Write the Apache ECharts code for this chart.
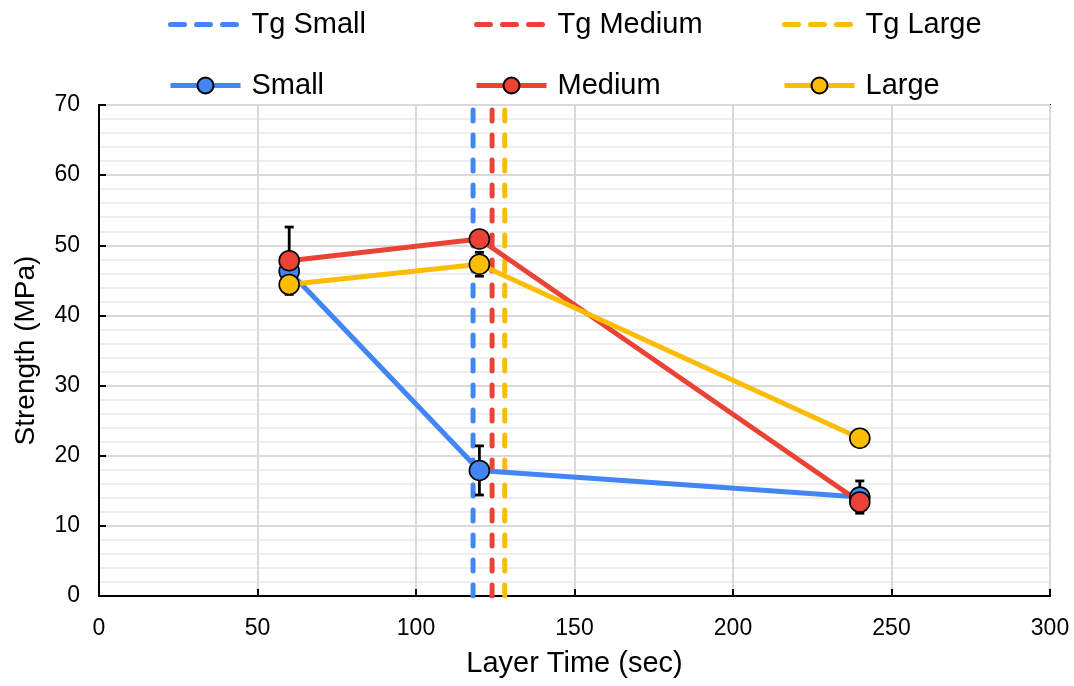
<!DOCTYPE html>
<html><head><meta charset="utf-8">
<script src="https://cdn.jsdelivr.net/npm/echarts@6/dist/echarts.min.js"></script>
<style>html,body{margin:0;padding:0;background:#fff}#c{width:1074px;height:686px}</style>
</head><body><div id="c"></div>
<script>
const layerTimes = [60, 120, 240];
const smallStrength = [46.3, 17.9, 14.1];
const mediumStrength = [47.8, 50.9, 13.4];
const largeStrength = [44.4, 47.3, 22.5];
const smallErr = [1.5, 3.5, 2.3];
const mediumErr = [4.8, 0.8, 1.2];
const largeErr = [0.8, 1.7, 0.6];
const tgSmall = 118;
const tgMedium = 124;
const tgLarge = 128;
const yRange = [0, 70];
const xTicks = [0, 50, 100, 150, 200, 250, 300];

const BLUE = '#4285F4', RED = '#EA4335', YEL = '#FBBC04';
const FONT = 'Liberation Sans, Arial, sans-serif';

function pts(vals){ return layerTimes.map((t,i)=>[t, vals[i]]); }
function errData(vals, errs){ return layerTimes.map((t,i)=>[t, vals[i]-errs[i], vals[i]+errs[i]]); }

function errSeries(name, vals, errs){
  return {
    type:'custom', name: name+' err', z:2, silent:true,
    data: errData(vals, errs),
    encode:{x:0, y:[1,2]},
    renderItem:function(params, api){
      const x = api.value(0);
      const lo = api.coord([x, api.value(1)]);
      const hi = api.coord([x, api.value(2)]);
      const w = 4.5;
      const st = {stroke:'#000', lineWidth:2.8};
      return {type:'group', children:[
        {type:'line', shape:{x1:lo[0],y1:lo[1],x2:hi[0],y2:hi[1]}, style:st},
        {type:'line', shape:{x1:lo[0]-w,y1:lo[1],x2:lo[0]+w,y2:lo[1]}, style:st},
        {type:'line', shape:{x1:hi[0]-w,y1:hi[1],x2:hi[0]+w,y2:hi[1]}, style:st}
      ]};
    }
  };
}
function tgSeries(name, x, color){
  return {
    type:'line', name:name, z:1, symbol:'none', silent:true,
    data:[[x, yRange[0]],[x, yRange[1]]],
    lineStyle:{color:color, width:5, type:[11,14], cap:'round'},
    itemStyle:{color:color}
  };
}
function dataSeries(name, vals, color){
  return {
    type:'line', name:name, z:3, data:pts(vals),
    symbol:'circle', symbolSize:20,
    lineStyle:{color:color, width:5},
    itemStyle:{color:color, borderColor:'#000', borderWidth:1.6}
  };
}
function legendAt(name, left, top, isTg){
  const lg = {
    data:[name], left:left, top:top, itemWidth:70, itemHeight:20,
    textStyle:{fontSize:29, color:'#000', fontFamily:FONT, padding:[0,0,0,6]},
    lineStyle:{width:5},
    selectedMode:false
  };
  if (isTg) { lg.lineStyle = {width:5, type:[14,12], cap:'round'}; lg.itemStyle = {opacity:0}; }
  return lg;
}

const chart = echarts.init(document.getElementById('c'), null, {renderer:'canvas'});
chart.setOption({
  animation:false,
  backgroundColor:'#fff',
  legend:[
    legendAt('Tg Small',163,5,true), legendAt('Tg Medium',469,5,true), legendAt('Tg Large',777,5,true),
    legendAt('Small',163,66), legendAt('Medium',469,66), legendAt('Large',777,66)
  ],
  grid:{left:99, right:24, top:105, bottom:90, show:true, borderColor:'#000', borderWidth:2, containLabel:false},
  xAxis:{
    type:'value', min:xTicks[0], max:xTicks[xTicks.length-1], interval:50,
    name:'Layer Time (sec)', nameLocation:'middle', nameGap:53,
    nameTextStyle:{fontSize:29, color:'#000', fontFamily:FONT},
    axisLine:{show:true, onZero:false, lineStyle:{color:'#000', width:2}},
    axisTick:{show:true, inside:true, length:7, lineStyle:{color:'#000', width:2}},
    axisLabel:{fontSize:23, color:'#000', fontFamily:FONT, margin:21},
    splitLine:{show:true, lineStyle:{color:'#d9d9d9', width:2}}
  },
  yAxis:{
    type:'value', min:yRange[0], max:yRange[1], interval:10,
    name:'Strength (MPa)', nameLocation:'middle', nameGap:59, nameRotate:90,
    nameTextStyle:{fontSize:28, color:'#000', fontFamily:FONT},
    axisLine:{show:true, onZero:false, lineStyle:{color:'#000', width:2}},
    axisTick:{show:true, inside:true, length:7, lineStyle:{color:'#000', width:2}},
    axisLabel:{fontSize:23, color:'#000', fontFamily:FONT, margin:19},
    splitLine:{show:true, lineStyle:{color:'#d9d9d9', width:2}},
    minorTick:{show:false, splitNumber:5},
    minorSplitLine:{show:true, lineStyle:{color:'#eeeeee', width:2}}
  },
  series:[
    tgSeries('Tg Small', tgSmall, BLUE),
    tgSeries('Tg Medium', tgMedium, RED),
    tgSeries('Tg Large', tgLarge, YEL),
    errSeries('Small', smallStrength, smallErr),
    errSeries('Medium', mediumStrength, mediumErr),
    errSeries('Large', largeStrength, largeErr),
    dataSeries('Small', smallStrength, BLUE),
    dataSeries('Medium', mediumStrength, RED),
    dataSeries('Large', largeStrength, YEL)
  ]
});
</script></body></html>
